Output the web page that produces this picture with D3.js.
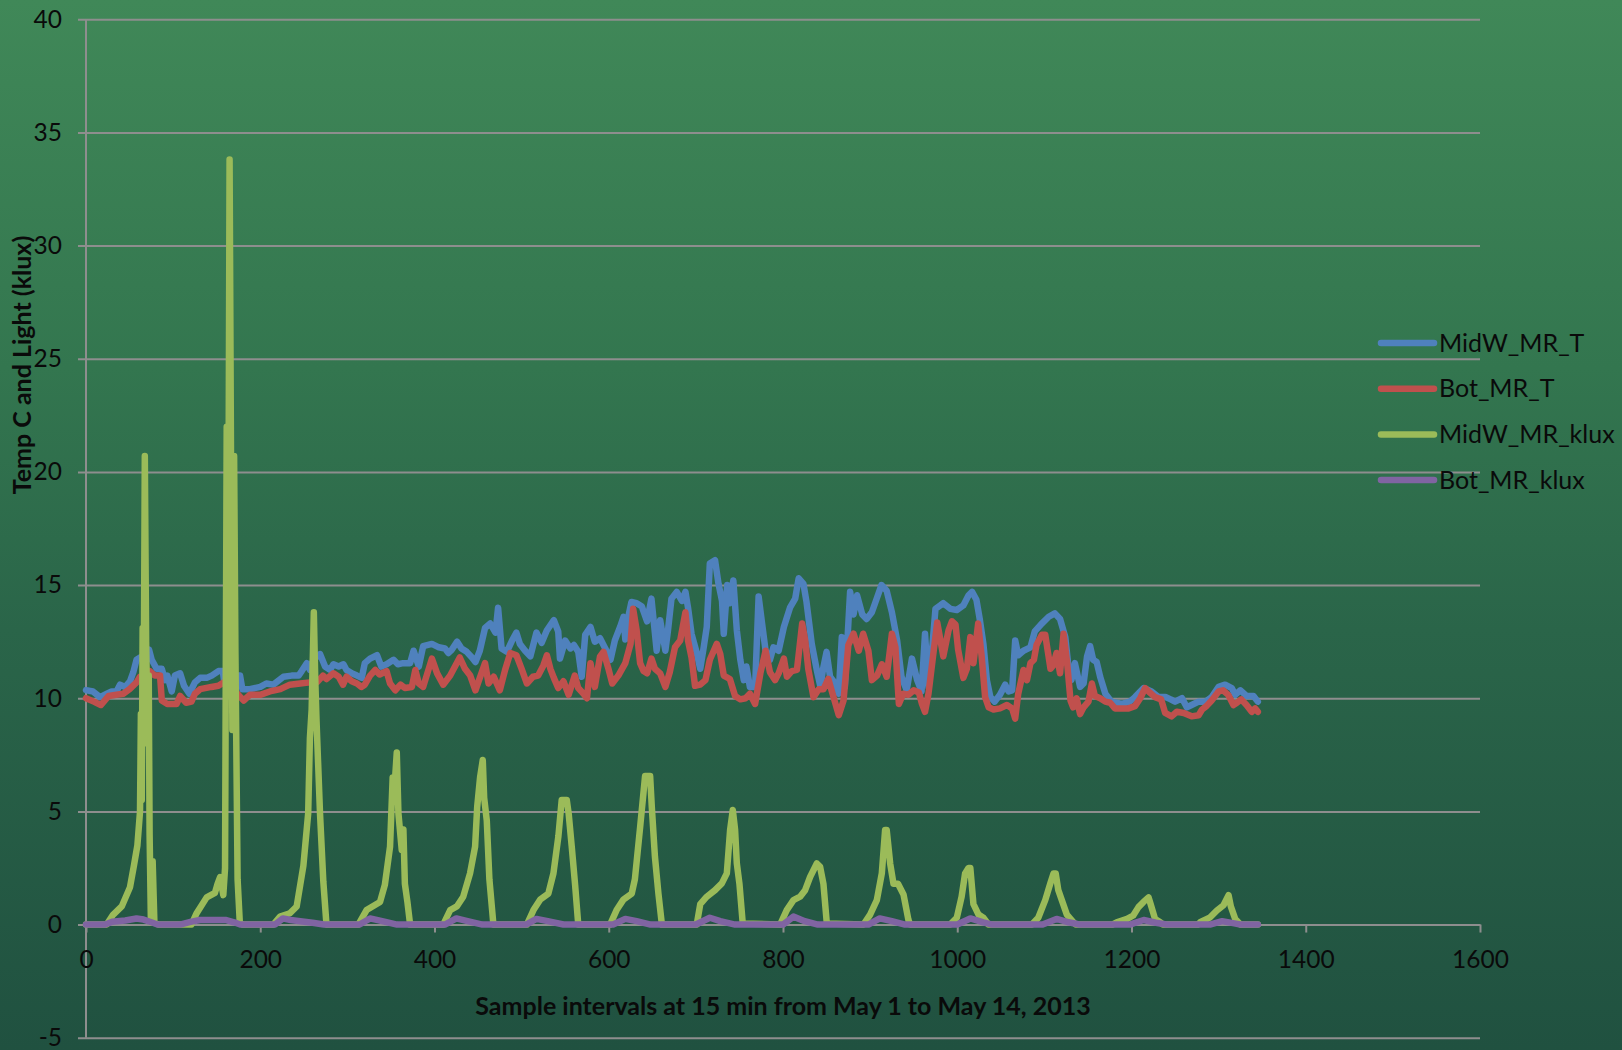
<!DOCTYPE html>
<html><head><meta charset="utf-8">
<script src="https://cdn.jsdelivr.net/npm/d3@7"></script>
<style>
html,body{margin:0;padding:0;background:#2c6a4a;}
svg{display:block;}
text{font-family:Lato,"Open Sans",sans-serif;fill:#0a0a0a;}
</style></head>
<body>
<svg id="chart" width="1622" height="1050"></svg>
<script>
// ---------- DATA ----------
const seriesNames = ["MidW_MR_T", "Bot_MR_T", "MidW_MR_klux", "Bot_MR_klux"];
const xTicks = [0, 200, 400, 600, 800, 1000, 1200, 1400, 1600];
const yTicks = [-5, 0, 5, 10, 15, 20, 25, 30, 35, 40];

// MidW_MR_T : sample index / temperature
const midT_x = [0,8,16,24,29.5,35,39,45,50.5,54.3,58,64,70,72.3,75.4,81,87,90.7,93.4,98.4,102,108,112.5,118.6,125,131,138.5,144.3,152,157,158.4,165,170,176.8,179.5,188,200,207,215,226.6,236,244,247.6,253.4,257,261,268.7,274.4,280,284,290,295.5,299,305,311,316.5,320,326,334,339,345,353,358,364,372,376,382,387,397,405,412,416,420,426,431,437,443,447,452,458,464,470,473,477,483,489,494,498,504,510,517,523,529,537,542,544,550,556,560,565,569,573,579,584,590,596,602,607,613,617,619,623,626,632,638,644,649,655,659,665,668,672,678,684,688,691,695,701,705,709,712.5,716,722,726,730,732,736,739,743,747,751,755,758,762,768,772,776,780,785,789,795,801,808,814,818,823.5,827,833,839,843,846,850,854,860,864,867.5,871,877,881,885,891,896,902,908,913,919,925,931,936,942,948,954,959,963,967,971,975,980.5,984,992,999.5,1007,1013,1017,1022,1026,1030,1034,1038,1043,1049,1055,1059,1063,1066.5,1070,1076,1084,1089,1097,1105,1112,1118,1124,1128,1131,1135,1141,1145,1149,1152.5,1156,1160,1164,1170,1177,1189,1198,1204,1214,1223,1231,1239,1245,1250,1258,1263.5,1269,1277,1285,1292,1300,1307.5,1315,1319,1325,1332,1340,1345];
const midT_y = [10.36,10.3,10.05,10.2,10.3,10.3,10.6,10.5,10.75,11.15,11.7,11.85,11.85,12.15,11.7,11.3,11.3,10.8,11.0,10.3,11.0,11.1,10.55,10.2,10.7,10.9,10.9,11.0,11.2,11.2,10.8,11.0,11.0,11.0,10.4,10.4,10.5,10.65,10.6,10.95,11.0,11.0,11.2,11.55,11.25,11.7,11.95,11.4,11.25,11.5,11.4,11.5,11.25,11.1,11.0,10.9,11.55,11.75,11.9,11.4,11.5,11.7,11.5,11.55,11.55,12.1,11.4,12.3,12.4,12.25,12.2,12.0,12.15,12.5,12.2,12.05,11.8,11.6,12.1,13.1,13.3,12.9,14.0,12.2,12.05,12.55,12.9,12.4,12.1,11.85,12.9,12.45,13.0,13.45,12.95,11.75,12.55,12.2,12.35,12.05,10.95,12.8,13.15,12.5,12.65,12.2,11.7,12.55,13.15,13.6,12.6,13.7,14.25,14.2,14.05,13.4,14.4,12.1,13.45,12.1,13.0,14.4,14.7,14.3,14.7,14.0,12.85,12.0,11.3,12.25,13.15,15.95,16.1,15.05,14.3,12.85,15.0,14.2,15.2,13.0,11.7,10.8,11.4,10.5,10.5,14.5,13.3,12.1,11.7,12.25,12.1,13.15,14.0,14.4,15.3,15.05,14.25,12.4,11.2,10.5,11.3,12.05,10.95,10.65,10.2,12.7,10.5,14.7,13.7,14.55,13.7,13.5,13.8,14.45,15.0,14.75,13.8,12.55,10.95,10.35,11.75,10.8,10.3,12.85,10.5,12.1,13.95,14.1,14.2,13.95,13.9,14.1,14.55,14.7,14.35,13.45,12.4,10.8,10.05,9.85,10.15,10.6,10.3,10.35,12.55,11.9,12.1,12.25,12.95,13.3,13.6,13.75,13.5,12.7,11.25,10.8,11.55,10.5,10.65,11.85,12.3,11.7,11.6,10.95,10.2,9.85,9.75,9.85,10.05,10.45,10.3,10.05,10.05,9.95,9.85,10.0,9.6,9.7,9.85,9.85,10.05,10.5,10.6,10.45,10.15,10.35,10.1,10.1,9.85];

// Bot_MR_T
const botT_x = [0,9,17,26,35,43,50,58,62,68,73,79,85,87,93,104,108,115,121,125,131,144,152,158,167,176,181,188,200,211,223,234,246,257,265,272,276,284,290,295,299,305,311,316,320,326,332,337,345,349,355,361,366,374,378,382,387,397,403,410,418,429,435,441,447,452,458,462,468,475,481,487,494,500,506,513,519,525,529,533,537,542,548,554,561,565,571,575,579,584,590,594,600,604,611,619,625,628,632,636,640,644,649,653,659,665,670,676,682,688,691,695,699,705,711,716,724,728,732,739,745,751,757,762,768,774,780,785,791,795,801,804.5,810,816,822,825.5,829,835,841,846.5,852,858,864,869.5,875,881,887,892,898,902,908,913.5,919,925,929,933,938,944,950,956,959.5,963,967,973,977,981,984,990,994,998,1001,1007,1011,1015,1018.6,1024,1028,1032,1036,1041.6,1049,1057,1063,1066.5,1070,1076,1080,1084,1088,1091,1097,1101,1107,1110,1114,1118,1122,1126,1130,1133,1137,1141,1145,1150.6,1154.5,1158,1164,1170,1175.5,1181,1189,1196.6,1204,1210,1215.7,1221,1227,1234,1238.6,1246,1252,1260,1269,1277,1281,1286,1292,1300,1305,1311,1317,1321,1326,1332,1338,1342,1345];
const botT_y = [10.0,9.85,9.7,10.1,10.15,10.2,10.4,10.7,10.95,11.0,11.2,11.0,11.0,9.9,9.75,9.75,10.1,9.8,9.85,10.2,10.4,10.5,10.55,10.7,10.5,10.1,9.9,10.15,10.15,10.3,10.4,10.6,10.65,10.7,10.7,11.0,10.85,11.1,10.95,10.6,10.95,10.75,10.65,10.5,10.6,11.0,11.25,11.05,11.2,10.65,10.35,10.6,10.45,10.5,11.25,10.65,10.5,11.75,11.1,10.6,11.0,11.8,11.3,11.0,10.35,10.9,11.55,10.65,10.95,10.35,11.25,12.0,11.9,11.3,10.65,10.95,11.0,11.45,11.9,11.3,10.9,10.45,10.75,10.15,11.0,10.45,10.2,10.0,11.55,10.5,11.85,12.05,11.25,10.65,11.0,11.55,12.4,13.95,13.0,11.55,11.2,11.1,11.75,11.3,11.1,10.5,11.15,12.25,12.55,13.8,12.55,11.8,10.55,10.6,10.8,11.7,12.4,11.95,11.0,10.85,10.1,9.95,10.0,10.2,9.75,11.1,12.1,11.15,10.8,11.1,11.75,10.95,11.2,11.25,13.3,12.55,11.3,10.05,10.4,10.4,10.85,10.05,9.25,9.9,12.35,12.85,12.1,12.85,12.1,10.8,11.0,11.5,10.95,12.85,12.25,9.75,10.2,10.15,10.35,10.25,9.75,9.4,10.2,12.1,13.35,12.5,11.85,13.0,13.4,13.25,12.15,10.9,11.3,12.7,11.55,13.3,11.85,10.05,9.6,9.5,9.55,9.7,9.55,9.1,10.2,11.25,10.8,11.55,11.7,12.35,12.8,12.8,11.3,11.45,12.0,11.1,12.85,11.6,9.9,9.6,10.0,9.3,9.6,9.85,10.65,10.1,10.0,9.85,9.8,9.55,9.55,9.55,9.65,10.0,10.45,10.25,10.05,9.95,9.35,9.2,9.4,9.35,9.2,9.25,9.5,9.65,9.9,10.3,10.35,10.15,9.7,9.8,9.95,9.7,9.4,9.55,9.4];

// MidW_MR_klux
const midL_x = [0,23.7,31,41,50.5,55,59,62,63,64,65,66,67.5,69,70.5,72,73,74.5,76.5,78.5,83,121,127,138.5,148,151,154,157.6,159.6,161.5,163,164.8,166.5,168,170,171.5,174,176.5,180,215,222.7,234,241.8,249.5,255,257,259,261.5,263,264.6,268.6,272.4,276,312.6,322,337.5,343,349,352,354,356.7,358.6,362.4,364.3,366,368.9,372,410,418,425.6,433,440.8,446.6,449,452.3,455.4,457,460,463,467.6,506,513.6,521.2,530.7,536.5,542.2,546,551.8,554,557.5,561.4,565,601.5,609,616.8,626.4,630,636,641.7,647.5,649.4,653,657,661,701,705,712.5,722,729.8,735.5,739.3,742.4,745,747,750,753.8,796.7,804.3,812,819.6,825.4,831.1,838.8,842.6,846.4,850.3,892.4,900,907.7,913.4,917.2,919,923,926.8,932,938.3,944,946,991.8,999.5,1005,1009,1012.9,1015,1018.6,1024.4,1030,1035.8,1085.6,1093,1101,1106.7,1110.5,1113,1116,1120,1125.8,1133.4,1136,1178,1183,1195,1202,1208,1213.8,1219.6,1222,1227,1233,1236,1276,1278.8,1290.3,1298,1305.6,1311.4,1314,1319,1325,1345];
const midL_y = [0,0,0.43,0.8,1.65,2.6,3.5,5.0,9.3,5.5,13.1,8.0,20.7,12.5,9.0,11.0,4.0,0.1,2.8,0.1,0,0,0.5,1.2,1.4,1.8,2.1,1.3,2.5,22.0,12.0,33.8,20.0,8.6,20.7,12.0,2.0,0.1,0,0,0.35,0.5,0.8,2.6,4.9,8.25,9.5,13.8,11.0,9.0,4.9,1.9,0,0,0.64,1.0,1.75,3.45,6.5,6.0,7.6,4.9,3.3,4.2,1.8,1.0,0,0,0.64,0.8,1.23,2.26,3.44,5.2,6.5,7.27,5.6,4.6,2.0,0,0,0.64,1.1,1.37,2.26,3.9,5.5,5.5,4.9,3.45,1.75,0,0,0.64,1.1,1.37,2.0,4.3,6.56,6.56,5.2,3.0,1.37,0,0,0.9,1.23,1.52,1.82,2.26,4.18,5.06,4.18,2.7,1.8,0.05,0,0.64,1.08,1.23,1.52,2.1,2.7,2.55,1.8,0.05,0,0.44,1.08,2.26,4.18,4.18,2.7,1.8,1.8,1.33,0.2,0,0,0.3,1.23,2.26,2.5,2.5,0.9,0.44,0.3,0,0,0.3,1.08,1.8,2.26,2.26,1.52,1.08,0.44,0.1,0,0,0.1,0.25,0.4,0.77,1.0,1.2,0.9,0.25,0.1,0,0,0.1,0.32,0.62,0.85,1.3,0.8,0.25,0,0];

// Bot_MR_klux
const botL_x = [0,22,30,45,58,66,75,82,108,120,131,161,170,177,217,226,235,246,260,273,314,326,340,357,412,425,438,455,505,517,530,548,605,619,632,648,700,716,728,745,800,812,825,840,898,911,925,940,1000,1015,1030,1040,1098,1114,1128,1140,1198,1214,1228,1240,1290,1304,1318,1325,1345];
const botL_y = [0,0,0.12,0.18,0.27,0.22,0.1,0,0,0.12,0.2,0.2,0.1,0,0,0.27,0.2,0.15,0.08,0,0,0.27,0.15,0,0,0.27,0.15,0,0,0.25,0.15,0,0,0.25,0.15,0,0,0.3,0.15,0,0,0.35,0.15,0,0,0.27,0.15,0,0,0.27,0.1,0,0,0.25,0.1,0,0,0.2,0.08,0,0,0.15,0.05,0,0];

const seriesColors = ["#4f81bd", "#c0504d", "#9bbb59", "#8064a2"];
const xTitle = "Sample intervals at 15 min from May 1 to May 14, 2013";
const yTitle = "Temp C and Light (klux)";

// ---------- DRAWING ----------
const svg = d3.select("#chart");
const W = 1622, H = 1050;
const defs = svg.append("defs");
const grad = defs.append("linearGradient").attr("id","bg").attr("x1",0).attr("y1",0).attr("x2",0).attr("y2",1);
[[0,"#408858"],[0.35,"#33764f"],[0.6,"#2a6549"],[1,"#205140"]].forEach(s =>
  grad.append("stop").attr("offset", s[0]).attr("stop-color", s[1]));
svg.append("rect").attr("width",W).attr("height",H).attr("fill","url(#bg)");

const x = d3.scaleLinear().domain([0,1600]).range([86,1480]);
const y = d3.scaleLinear().domain([-5,40]).range([1037.7,19.3]);

const gridColor = "#8e8e8e";
const fmt = d => String(d);

// y axis with gridlines
const yAxisG = svg.append("g").attr("transform","translate(78,0)")
  .call(d3.axisLeft(y).tickValues(yTicks).tickSizeInner(-(1480-78)).tickSizeOuter(0).tickPadding(16).tickFormat(fmt));
yAxisG.select(".domain").remove();
yAxisG.selectAll(".tick line").attr("stroke",gridColor).attr("stroke-width",2);
yAxisG.selectAll(".tick text").attr("font-size",24.5).attr("font-family","Lato, sans-serif").attr("fill","#0a0a0a");

// vertical axis line
svg.append("line").attr("x1",x(0)).attr("x2",x(0)).attr("y1",y(-5)).attr("y2",y(40))
  .attr("stroke",gridColor).attr("stroke-width",2);

// x axis at y = 0
const xAxisG = svg.append("g").attr("transform",`translate(0,${y(0)})`)
  .call(d3.axisBottom(x).tickValues(xTicks).tickSize(8).tickSizeOuter(0).tickPadding(18).tickFormat(fmt));
xAxisG.select(".domain").attr("stroke",gridColor).attr("stroke-width",2);
xAxisG.selectAll(".tick line").attr("stroke",gridColor).attr("stroke-width",2);
xAxisG.selectAll(".tick text").attr("font-size",24.5).attr("font-family","Lato, sans-serif").attr("fill","#0a0a0a");

// series lines
const seriesX = [midT_x, botT_x, midL_x, botL_x];
const seriesY = [midT_y, botT_y, midL_y, botL_y];
const line = d3.line().x(d => x(d[0])).y(d => y(d[1]));
seriesNames.forEach((name, i) => {
  const pts = seriesX[i].map((v, j) => [v, seriesY[i][j]]);
  svg.append("path").datum(pts)
    .attr("d", line)
    .attr("fill","none")
    .attr("stroke", seriesColors[i])
    .attr("stroke-width", 6.5)
    .attr("stroke-linejoin","round")
    .attr("stroke-linecap","round");
});

// legend
const legend = svg.append("g").attr("transform","translate(1381,343)");
seriesNames.forEach((name, i) => {
  const g = legend.append("g").attr("transform",`translate(0,${i*45.7})`);
  g.append("line").attr("x1",0).attr("x2",53).attr("y1",0).attr("y2",0)
    .attr("stroke",seriesColors[i]).attr("stroke-width",6.5).attr("stroke-linecap","round");
  g.append("text").attr("x",58).attr("y",0).attr("dy","0.35em")
    .attr("font-size",25).text(name);
});

// axis titles
svg.append("text").attr("x",783).attr("y",1006).attr("dy","0.35em")
  .attr("text-anchor","middle").attr("font-size",25).attr("font-weight","bold").text(xTitle);
svg.append("text").attr("transform","translate(22,365) rotate(-90)")
  .attr("text-anchor","middle").attr("dy","0.35em").attr("font-size",25).attr("font-weight","bold").text(yTitle);
</script>
</body></html>
